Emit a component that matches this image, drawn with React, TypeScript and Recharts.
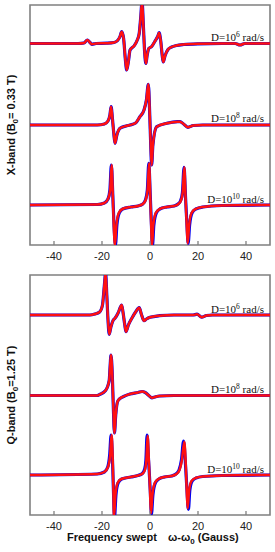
import React from "react";
import { LineChart, Line, XAxis, YAxis, ReferenceArea } from "recharts";

// x ticks (Gauss)
const xTicks = [-40, -20, 0, 20, 40];

// baselines (vertical offsets) of the three spectra in each panel
const xOffsets = [201.5, 120, 40];
const qOffsets = [200, 119.5, 40];

// X-band, D = 1e6 rad/s  [x, signal]
const xband6: [number, number][] = [[-50,0],[-30,0],[-27.5,0.5],[-26.1,3.5],[-25,1],[-24.2,-0.8],[-22.5,0],[-18,0.3],[-15,1],[-13.5,3],[-12.5,7],[-11.8,11.8],[-11,5],[-10.3,-15],[-9.7,-26.5],[-9,-18],[-8.3,-6.5],[-6.5,-2],[-5.3,3.5],[-4.5,10],[-3.9,25],[-3.3,42],[-2.8,20],[-2.2,-10],[-1.7,-20],[-1.2,-12],[-0.5,-5],[0.7,-3],[2,2],[3.2,7],[3.8,10.8],[4.5,2],[5,-10],[5.5,-18.5],[6.3,-12],[7.5,-6],[9,-3.5],[11,-2],[14,-1],[20,-0.3],[30,0],[35.5,0],[37.5,-1.5],[39.5,0],[50,0]];
// X-band, D = 1e8 rad/s
const xband8: [number, number][] = [[-50,0],[-22,0],[-19,1],[-17.5,4],[-16.7,10],[-16.2,18.3],[-15.6,5],[-15.1,-8],[-14.6,-18.3],[-13.8,-10],[-12.5,-3.3],[-10,-1],[-8.3,0],[-6,2],[-4.2,8.3],[-2.5,15],[-1.5,25],[-0.7,40.7],[-0.1,10],[0.3,-20],[0.7,-40],[1.2,-20],[2.8,-1.7],[7,1.7],[11.5,3.3],[12.5,3.3],[14,1],[15.8,-2.3],[18,-0.5],[22,0],[50,0]];
// X-band, D = 1e10 rad/s (red)
const xband10: [number, number][] = [[-50,0],[-22,0.5],[-19,2],[-17.5,6],[-16.6,15],[-16,40],[-15.5,10],[-15.1,-20],[-14.6,-40],[-14,-20],[-13,-8],[-11.5,-4],[-8,-2],[-5,-1],[-3,1],[-1.8,5],[-1,15],[-0.4,41.7],[0.1,10],[0.5,-20],[0.8,-41],[1.4,-20],[2.4,-8],[4,-4],[7,-2],[10,-1],[11.8,1],[12.8,4],[13.6,12],[14.3,37.7],[14.8,8],[15.3,-20],[15.7,-38.3],[16.3,-20],[17.3,-8],[19,-4],[22,-2],[30,-0.5],[50,0]];
// X-band, D = 1e10 rad/s (blue)
const xband10b: [number, number][] = [[-50,0],[-22,0.5],[-19,2],[-17.5,6],[-16.7,15],[-16.1,40],[-15.5,10],[-15,-20],[-14.4,-40],[-13.8,-20],[-12.8,-8],[-11.4,-4],[-8,-2],[-5,-1],[-3,1],[-1.9,5],[-1.1,15],[-0.5,41.7],[0.1,10],[0.6,-20],[1.0,-41],[1.6,-20],[2.6,-8],[4.1,-4],[7,-2],[10,-1],[11.7,1],[12.7,4],[13.5,12],[14.2,37.7],[14.8,8],[15.4,-20],[15.9,-38.3],[16.5,-20],[17.5,-8],[19.1,-4],[22,-2],[30,-0.5],[50,0]];

// Q-band, D = 1e6 rad/s
const qband6: [number, number][] = [[-50,0],[-25,0],[-23,1],[-21,3],[-19.8,10],[-19,30],[-18.5,42],[-18,20],[-17.5,-5],[-17,-19.3],[-16.3,-12],[-15.3,-5],[-14.6,-3.3],[-13.3,2],[-12.3,8],[-11.8,10],[-11.2,2],[-10.5,-10],[-10,-16.7],[-9,-10],[-7.5,-3],[-6,3],[-4.5,7.3],[-3.5,0],[-2.5,-5.7],[-1.5,-4],[0,-2.3],[4,-0.7],[10,0],[18,0],[19.6,0.8],[21.5,-2.2],[23.5,-0.5],[26,0],[50,0]];
// Q-band, D = 1e8 rad/s
const qband8: [number, number][] = [[-50,0],[-22,0],[-21,1],[-18.5,5],[-17,15],[-16.6,30],[-16.25,40.5],[-15.7,20],[-15.3,-10],[-14.8,-37.5],[-14.3,-20],[-13.5,-6],[-12.5,-3],[-11,-1],[-8.3,1.5],[-5,3],[-3.3,4],[-2,3],[-0.5,0],[0.8,-2.3],[2,-1.5],[4,-0.5],[10,0],[50,0]];
// Q-band, D = 1e10 rad/s (red)
const qband10: [number, number][] = [[-50,0],[-22,1],[-19,3],[-17.5,8],[-16.6,20],[-16,40],[-15.6,20],[-15.3,-10],[-15,-42],[-14.4,-20],[-13.5,-8],[-12,-4],[-8,-2],[-5,-0.5],[-3,1.5],[-2,6],[-1.5,15],[-1,39],[-0.5,15],[0,-15],[0.4,-38.3],[1,-20],[2,-8],[3.5,-4],[6,-2],[9,-1],[11,1],[12.3,5],[13.3,15],[14.3,33.3],[14.9,10],[15.3,-15],[15.7,-33.3],[16.3,-15],[17.3,-6],[19,-3],[22,-1.5],[30,-0.5],[50,0]];
// Q-band, D = 1e10 rad/s (blue)
const qband10b: [number, number][] = [[-50,0],[-22,1],[-19,3],[-17.6,8],[-16.8,20],[-16.2,40],[-15.7,20],[-15.3,-10],[-14.8,-42],[-14.2,-20],[-13.3,-8],[-11.8,-4],[-8,-2],[-5,-0.5],[-3.2,1.5],[-2.2,6],[-1.7,15],[-1.2,40],[-0.6,15],[0.1,-15],[0.6,-39],[1.2,-20],[2.2,-8],[3.7,-4],[6,-2],[9,-1],[10.8,1],[12.1,5],[13.1,15],[14.0,34],[14.8,10],[15.4,-15],[16.0,-34.5],[16.6,-15],[17.6,-6],[19.2,-3],[22,-1.5],[30,-0.5],[50,0]];

const build = (pts: [number, number][], off: number) => pts.map(([x, y]) => ({ x, y: y + off }));

const BLUE = "#0000f0";
const RED = "#ff1010";
const FRAME = "#808080";

const BottomTick = (props: any) => {
  const { x, y, payload } = props;
  return (
    <g>
      <line x1={x} x2={x} y1={y} y2={y - 4} stroke={FRAME} strokeWidth={1.3} />
      <text x={x} y={y + 15} textAnchor="middle" fontSize={11} fontFamily="Liberation Sans, Arial, sans-serif" fill="#222">
        {payload.value}
      </text>
    </g>
  );
};

const TopTick = (props: any) => {
  const { x, y } = props;
  return <line x1={x} x2={x} y1={y} y2={y + 4} stroke={FRAME} strokeWidth={1.3} />;
};

type Spec = { red: [number, number][]; blue: [number, number][]; off: number };

const Panel = ({ specs }: { specs: Spec[] }) => (
  <LineChart width={275} height={270} margin={{ top: 5, right: 5, bottom: 5, left: 30 }}>
    <XAxis dataKey="x" type="number" domain={[-50, 50]} allowDataOverflow ticks={xTicks} tickSize={0} tickMargin={0} tickLine={false} axisLine={false} height={20} tick={<BottomTick />} interval={0} />
    <XAxis xAxisId="top" orientation="top" dataKey="x" type="number" domain={[-50, 50]} allowDataOverflow ticks={xTicks} tickSize={0} tickMargin={0} tickLine={false} axisLine={false} height={0} tick={<TopTick />} interval={0} />
    <YAxis type="number" domain={[0, 240]} allowDataOverflow hide />
    {specs.map((s, i) => (
      <Line key={"b" + i} data={build(s.blue, s.off)} dataKey="y" type="monotone" stroke={BLUE} strokeWidth={3.2} dot={false} isAnimationActive={false} />
    ))}
    {specs.map((s, i) => (
      <Line key={"r" + i} data={build(s.red, s.off)} dataKey="y" type="monotone" stroke={RED} strokeWidth={2.5} dot={false} isAnimationActive={false} />
    ))}
    <ReferenceArea x1={-50} x2={50} y1={0} y2={240} fill="none" stroke={FRAME} strokeWidth={1.6} ifOverflow="visible" />
  </LineChart>
);

const DLabel = ({ y, exp }: { y: number; exp: string }) => (
  <text x={264} y={y} textAnchor="end" fontFamily="Liberation Serif, Times New Roman, serif" fontSize={11} fill="#111">
    D=10<tspan dy={-4} fontSize={7.5}>{exp}</tspan><tspan dy={4}> rad/s</tspan>
  </text>
);

export default function App() {
  return (
    <div style={{ position: "absolute", left: 0, top: 0, width: 275, height: 552, background: "#fff" }}>
      <div style={{ position: "absolute", left: 0, top: 0 }}>
        <Panel
          specs={[
            { red: xband6, blue: xband6, off: xOffsets[0] },
            { red: xband8, blue: xband8, off: xOffsets[1] },
            { red: xband10, blue: xband10b, off: xOffsets[2] },
          ]}
        />
      </div>
      <div style={{ position: "absolute", left: 0, top: 270 }}>
        <Panel
          specs={[
            { red: qband6, blue: qband6, off: qOffsets[0] },
            { red: qband8, blue: qband8, off: qOffsets[1] },
            { red: qband10, blue: qband10b, off: qOffsets[2] },
          ]}
        />
      </div>
      <svg width={275} height={552} style={{ position: "absolute", left: 0, top: 0, pointerEvents: "none" }}>
        <DLabel y={41} exp="6" />
        <DLabel y={121.5} exp="8" />
        <DLabel y={202.5} exp="10" />
        <DLabel y={313} exp="6" />
        <DLabel y={392.5} exp="8" />
        <DLabel y={472.5} exp="10" />
        <text transform="translate(15,125) rotate(-90)" textAnchor="middle" fontFamily="Liberation Sans, Arial, sans-serif" fontWeight="bold" fontSize={11} fill="#111">
          X-band (B<tspan dy={3} fontSize={8}>0</tspan><tspan dy={-3}>= 0.33 T)</tspan>
        </text>
        <text transform="translate(15,395) rotate(-90)" textAnchor="middle" fontFamily="Liberation Sans, Arial, sans-serif" fontWeight="bold" fontSize={11} fill="#111">
          Q-band (B<tspan dy={3} fontSize={8}>0</tspan><tspan dy={-3}>=1.25 T)</tspan>
        </text>
        <text x={67} y={541} fontFamily="Liberation Sans, Arial, sans-serif" fontWeight="bold" fontSize={11} fill="#111">
          Frequency swept
        </text>
        <text x={168} y={541} fontFamily="Liberation Sans, Arial, sans-serif" fontWeight="bold" fontSize={11} fill="#111">
          ω-ω<tspan dy={3} fontSize={8}>0</tspan><tspan dy={-3}> (Gauss)</tspan>
        </text>
      </svg>
    </div>
  );
}
